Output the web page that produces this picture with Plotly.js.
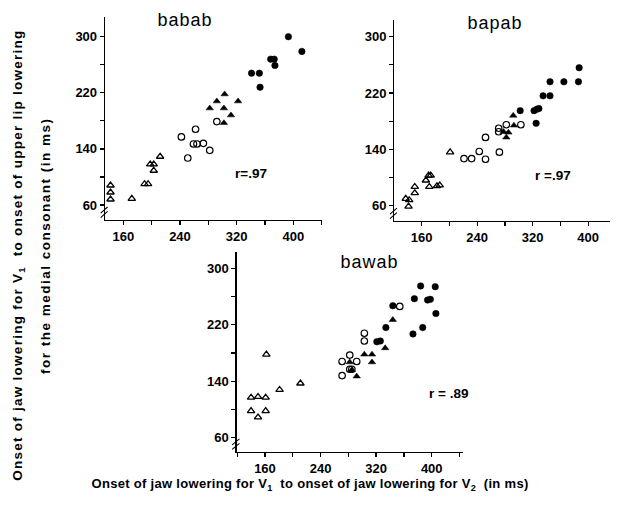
<!DOCTYPE html>
<html>
<head>
<meta charset="utf-8">
<script src="https://cdn.plot.ly/plotly-3.0.1.min.js"></script>
<style>html,body{margin:0;padding:0;background:#fff;}#chart{width:619px;height:507px;}</style>
</head>
<body>
<div id="chart"></div>
<script>
// ---- Data ----
const panelNames = ["babab", "bapab", "bawab"];
const rValues = ["r=.97", "r =.97", "r = .89"];
const xTickVals = [160, 240, 320, 400];
const yTickVals = [60, 140, 220, 300];

// babab
const bababOpenTriX = [142, 142, 142, 172, 190, 195, 198, 203, 203, 212];
const bababOpenTriY = [88, 78, 68, 69, 90, 90, 118, 118, 109, 129];
const bababOpenCircX = [242, 262, 251, 259, 264, 273, 282, 292];
const bababOpenCircY = [157, 168, 127, 147, 147, 148, 138, 179];
const bababFillTriX = [282, 292, 303, 302, 302, 312, 322];
const bababFillTriY = [198, 208, 218, 198, 177, 188, 208];
const bababFillCircX = [341, 352, 353, 368, 373, 374, 393, 412];
const bababFillCircY = [248, 248, 228, 268, 268, 259, 300, 279];

// bapab
const bapabOpenTriX = [137, 141, 142, 150, 150, 166, 170, 173, 171, 182, 186, 201];
const bapabOpenTriY = [70, 59, 68, 87, 78, 96, 103, 103, 87, 88, 89, 136];
const bapabOpenCircX = [221, 232, 243, 252, 252, 272, 271, 271, 282, 303];
const bapabOpenCircY = [127, 127, 137, 157, 126, 136, 170, 165, 175, 175];
const bapabFillTriX = [278, 285, 282, 292, 293];
const bapabFillTriY = [165, 164, 157, 188, 174];
const bapabFillCircX = [302, 322, 326, 329, 325, 335, 345, 345, 365, 386, 387];
const bapabFillCircY = [195, 195, 197, 198, 177, 216, 216, 236, 236, 236, 256];

// bawab
const bawabOpenTriX = [140, 150, 161, 140, 150, 161, 162, 181, 211];
const bawabOpenTriY = [117, 118, 117, 98, 89, 98, 178, 128, 137];
const bawabOpenCircX = [271, 282, 292, 271, 282, 285, 303, 303, 354];
const bawabOpenCircY = [168, 177, 168, 148, 157, 157, 208, 197, 246];
const bawabFillTriX = [282, 285, 292, 303, 314, 314, 333, 344];
const bawabFillTriY = [167, 156, 147, 178, 178, 167, 187, 227];
const bawabFillCircX = [334, 321, 326, 344, 373, 375, 384, 387, 394, 398, 405, 406];
const bawabFillCircY = [216, 196, 197, 247, 207, 257, 275, 216, 255, 256, 274, 236];

// ---- Build traces ----
const FONT = "Liberation Sans, Arial, Helvetica, sans-serif";
const mk = (sym, lw) => ({symbol: sym, size: 6.5, color: "black", line: {color: "black", width: lw}});
function series(x, y, sym, xa, ya, lw) {
  return {type: "scatter", mode: "markers", x: x, y: y, xaxis: xa, yaxis: ya,
          marker: mk(sym, lw), showlegend: false, hoverinfo: "skip"};
}
const sets = [
  [bababOpenTriX, bababOpenTriY, bababOpenCircX, bababOpenCircY, bababFillTriX, bababFillTriY, bababFillCircX, bababFillCircY],
  [bapabOpenTriX, bapabOpenTriY, bapabOpenCircX, bapabOpenCircY, bapabFillTriX, bapabFillTriY, bapabFillCircX, bapabFillCircY],
  [bawabOpenTriX, bawabOpenTriY, bawabOpenCircX, bawabOpenCircY, bawabFillTriX, bawabFillTriY, bawabFillCircX, bawabFillCircY]
];
const traces = [];
sets.forEach((s, i) => {
  const xa = i === 0 ? "x" : "x" + (i + 1);
  const ya = i === 0 ? "y" : "y" + (i + 1);
  traces.push(series(s[0], s[1], "triangle-up-open", xa, ya, 1.3));
  traces.push(series(s[2], s[3], "circle-open", xa, ya, 1.2));
  traces.push(series(s[4], s[5], "triangle-up", xa, ya, 0.5));
  traces.push(series(s[6], s[7], "circle", xa, ya, 0.5));
});

const tickFont = {family: FONT, size: 13, color: "black", weight: "bold"};
function xAxis(domain, range, anchor) {
  return {domain: domain, range: range, anchor: anchor, showgrid: false, zeroline: false,
          showline: true, linecolor: "black", linewidth: 1.3,
          tickmode: "array", tickvals: xTickVals, ticks: "outside", ticklen: 4, tickwidth: 1.3, tickcolor: "black",
          minor: {tickmode: "linear", tick0: 0, dtick: 40, ticks: "outside", ticklen: 4, tickwidth: 1.2, tickcolor: "black", showgrid: false},
          tickfont: tickFont, fixedrange: true};
}
function yAxis(domain, range, anchor) {
  return {domain: domain, range: range, anchor: anchor, showgrid: false, zeroline: false,
          showline: true, linecolor: "black", linewidth: 1.3,
          tickmode: "array", tickvals: yTickVals, ticks: "outside", ticklen: 4, tickwidth: 1.3, tickcolor: "black",
          minor: {tickmode: "linear", tick0: 20, dtick: 40, ticks: "outside", ticklen: 4, tickwidth: 1.2, tickcolor: "black", showgrid: false},
          tickfont: tickFont, fixedrange: true};
}

const W = 619, H = 507;
const layout = {
  width: W, height: H, margin: {l: 0, r: 0, t: 0, b: 0},
  paper_bgcolor: "white", plot_bgcolor: "white",
  xaxis: xAxis([105 / W, 321.7 / W], [134.2, 440], "y"),
  yaxis: yAxis([1 - 220 / H, 1 - 16.7 / H], [38.6, 328.5], "x"),
  xaxis2: xAxis([394.3 / W, 610 / W], [120.5, 431.5], "y2"),
  yaxis2: yAxis([1 - 221 / H, 1 - 20 / H], [38.3, 323.7], "x2"),
  xaxis3: xAxis([236.7 / W, 463 / W], [119.3, 445], "y3"),
  yaxis3: yAxis([1 - 451.7 / H, 1 - 251.7 / H], [40.2, 323.5], "x3"),
  annotations: [],
  shapes: []
};
const spacing = []; // letter-spacing for each annotation (px)

const titlePos = [[0.369, 0.984], [0.465, 0.984], [0.589, 0.95]];
const rPos = [[314.5, 105], [320.8, 103.6], [392.8, 123]];
panelNames.forEach((n, i) => {
  const sfx = i === 0 ? "" : String(i + 1);
  layout.annotations.push({text: n, xref: "x" + sfx + " domain", yref: "y" + sfx + " domain",
    x: titlePos[i][0], y: titlePos[i][1], xanchor: "center", yanchor: "middle", showarrow: false,
    font: {family: FONT, size: 18, color: "black"}});
  spacing.push(1);
  layout.annotations.push({text: rValues[i], xref: "x" + sfx, yref: "y" + sfx,
    x: rPos[i][0], y: rPos[i][1], xanchor: "left", yanchor: "middle", showarrow: false,
    font: {family: FONT, size: 13.5, color: "black", weight: "bold"}});
  spacing.push(0);
  // axis break marks at the corner
  [0, 1].forEach(k => {
    layout.shapes.push({type: "line", xref: "x" + sfx + " domain", yref: "y" + sfx + " domain",
      x0: -0.02, x1: 0.012, y0: 0.012 + k * 0.022, y1: 0.042 + k * 0.022,
      line: {color: "black", width: 1.1}});
  });
});
layout.annotations.push({
  text: "Onset of jaw lowering for V<sub>1</sub>  to onset of upper lip lowering",
  xref: "paper", yref: "paper", x: 18 / W, y: 1 - 255 / H, xanchor: "center", yanchor: "middle",
  textangle: -90, showarrow: false, font: {family: FONT, size: 13.5, color: "black", weight: "bold"}
});
spacing.push(1.26);
layout.annotations.push({
  text: "for the medial consonant (in ms)",
  xref: "paper", yref: "paper", x: 45 / W, y: 1 - 246 / H, xanchor: "center", yanchor: "middle",
  textangle: -90, showarrow: false, font: {family: FONT, size: 13.5, color: "black", weight: "bold"}
});
spacing.push(1.5);
layout.annotations.push({
  text: "Onset of jaw lowering for V<sub>1</sub>  to onset of jaw lowering for V<sub>2</sub>  (in ms)",
  xref: "paper", yref: "paper", x: 310 / W, y: 1 - 484 / H, xanchor: "center", yanchor: "middle",
  showarrow: false, font: {family: FONT, size: 13, color: "black", weight: "bold"}
});
spacing.push(0.3);

Plotly.newPlot("chart", traces, layout, {staticPlot: true, displayModeBar: false}).then(gd => {
  gd.querySelectorAll(".annotation").forEach(g => {
    const idx = +g.getAttribute("data-index");
    const t = g.querySelector(".annotation-text");
    if (t && spacing[idx]) t.style.letterSpacing = spacing[idx] + "px";
  });
});
</script>
</body>
</html>
